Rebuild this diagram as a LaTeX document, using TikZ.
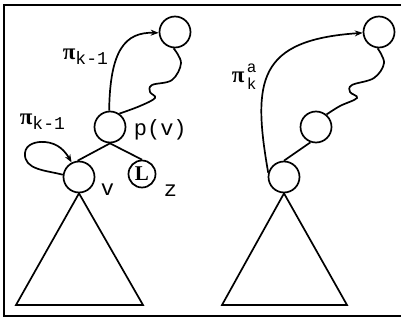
\documentclass[tikz,border=0pt]{standalone}
\usepackage{fontspec}
\newfontfamily\cour{Liberation Mono}
\newfontfamily\serb{Liberation Serif}
\usetikzlibrary{arrows.meta}
\newcommand{\mypi}{{\serb\bfseries\fontsize{23}{23}\selectfont π}}
\newcommand{\pilab}[1]{\mypi\raisebox{-5pt}{\cour\fontsize{18}{18}\selectfont #1}}
\begin{document}
\begin{tikzpicture}[x=1pt,y=-1pt, line width=1.7pt,
  nd/.style={circle,draw,minimum size=31pt,inner sep=0pt},
  lab/.style={inner sep=0pt,font=\cour\fontsize{22}{22}\selectfont},
  arr/.style={-{Stealth[length=8pt,width=6pt]}}]
\useasboundingbox (0,0) rectangle (401,321);
\draw[line width=1.7pt] (401,5) -- (4,5) -- (4,316) -- (401,316);
% left part
\node[nd] (t1) at (175,32) {};
\node[nd] (pv) at (110,127) {};
\node[nd] (v) at (79,177) {};
\node[circle,draw,minimum size=27pt,inner sep=0pt,font=\serb\fontsize{21}{21}\selectfont\bfseries] (z) at (142,174) {L};
\draw (pv.south) -- (v.95);
\draw (pv.south) -- (z.north);
\coordinate (a1) at (16,305);
\coordinate (b1) at (143,305);
\draw[line join=miter] (v.south) -- (a1) -- (b1) -- cycle;
\draw[arr] (pv.93) .. controls (110,50) and (125,32) .. (t1.183);
\draw plot[smooth,tension=0.6] coordinates {(t1.-95) (181,63) (172,80) (152,85) (150,92) (155,98) (140,106) (pv.55)};
\draw[arr] (v.172) to[out=165,in=-95] (25,153) to[out=85,in=175] (45,142) to[out=-5,in=120] (v.117);
\node[lab,anchor=west] (lpv) at (133,130) {p(v)};
\node[lab,anchor=west] (lv) at (100,190) {v};
\node[lab,anchor=west] (lz) at (163,191) {z};
\node[inner sep=0pt,anchor=west] (pi1) at (62,57) {\pilab{k-1}};
\node[inner sep=0pt,anchor=west] (pi2) at (19,122) {\pilab{k-1}};
% right part
\node[nd] (r1) at (379,32) {};
\node[nd] (r2) at (316,127) {};
\node[nd] (r3) at (284,177) {};
\draw (r3.north) -- (r2.250);
\coordinate (a2) at (222,305);
\coordinate (b2) at (347,305);
\draw[line join=miter] (r3.south) -- (a2) -- (b2) -- cycle;
\draw[arr] (r3.165) .. controls (252,80) and (258,40) .. (r1.183);
\draw plot[smooth,tension=0.6] coordinates {(r1.-95) (384,63) (374,78) (352,85) (350,92) (357,98) (340,106) (r2.50)};
\node[inner sep=0pt,anchor=west] (pi3) at (231,77) {\mypi};
\node[inner sep=0pt,anchor=south west,font=\cour\fontsize{16}{16}\selectfont] (pa) at (246,74) {a};
\node[inner sep=0pt,anchor=north west,font=\cour\fontsize{16}{16}\selectfont] (pk) at (246,77) {k};
\end{tikzpicture}
\end{document}
